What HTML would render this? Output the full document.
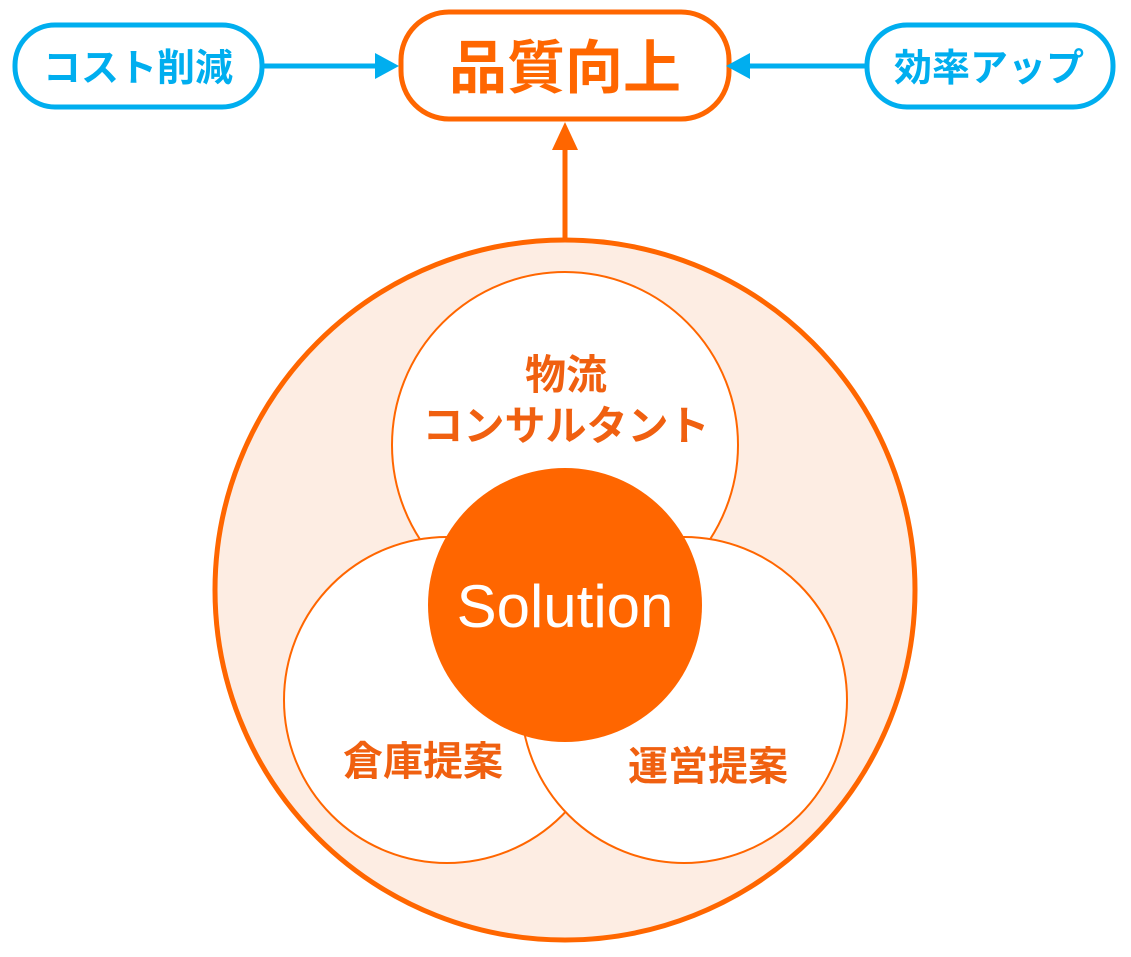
<!DOCTYPE html>
<html><head><meta charset="utf-8"><style>
html,body{margin:0;padding:0;background:#fff;}
svg{display:block;}
text{font-family:"Liberation Sans","Noto Sans CJK JP",sans-serif;font-weight:bold;}
</style></head><body>
<svg width="1131" height="957" viewBox="0 0 1131 957" xmlns="http://www.w3.org/2000/svg">
<circle cx="565" cy="590" r="350" fill="#FDEDE3" stroke="#FF6600" stroke-width="5"/>
<circle cx="565" cy="445" r="173" fill="#fff" stroke="#FF6600" stroke-width="2"/>
<circle cx="447" cy="700" r="163" fill="#fff" stroke="#FF6600" stroke-width="2"/>
<circle cx="684" cy="700" r="163" fill="#fff" stroke="#FF6600" stroke-width="2"/>
<circle cx="565" cy="605" r="137" fill="#FF6600"/>
<text x="565" y="627" font-size="60" fill="#fff" text-anchor="middle" style="font-weight:normal">Solution</text>
<text x="566" y="389" font-size="41" fill="#F06010" text-anchor="middle">物流</text>
<text x="566" y="440" font-size="41" fill="#F06010" text-anchor="middle">コンサルタント</text>
<text x="423" y="775" font-size="40" fill="#F06010" text-anchor="middle">倉庫提案</text>
<text x="708" y="780" font-size="40" fill="#F06010" text-anchor="middle">運営提案</text>
<line x1="565" y1="238" x2="565" y2="150" stroke="#FF6600" stroke-width="5"/>
<polygon points="565,122 552,150 578,150" fill="#FF6600"/>
<rect x="401" y="12" width="328" height="107" rx="48" fill="#fff" stroke="#FF6600" stroke-width="5"/>
<text x="565" y="88" font-size="58" fill="#FF6600" text-anchor="middle">品質向上</text>
<rect x="15" y="25" width="247" height="82" rx="40" fill="#fff" stroke="#00AEEF" stroke-width="5"/>
<text x="138" y="81" font-size="38" fill="#00AEEF" text-anchor="middle">コスト削減</text>
<rect x="867" y="25" width="246" height="82" rx="40" fill="#fff" stroke="#00AEEF" stroke-width="5"/>
<text x="989" y="81" font-size="38" fill="#00AEEF" text-anchor="middle">効率アップ</text>
<line x1="263" y1="66" x2="378" y2="66" stroke="#00AEEF" stroke-width="5"/>
<polygon points="399,66 375,53 375,79" fill="#00AEEF"/>
<line x1="866" y1="66" x2="748" y2="66" stroke="#00AEEF" stroke-width="5"/>
<polygon points="726,66 750,53 750,79" fill="#00AEEF"/>
</svg>
</body></html>
